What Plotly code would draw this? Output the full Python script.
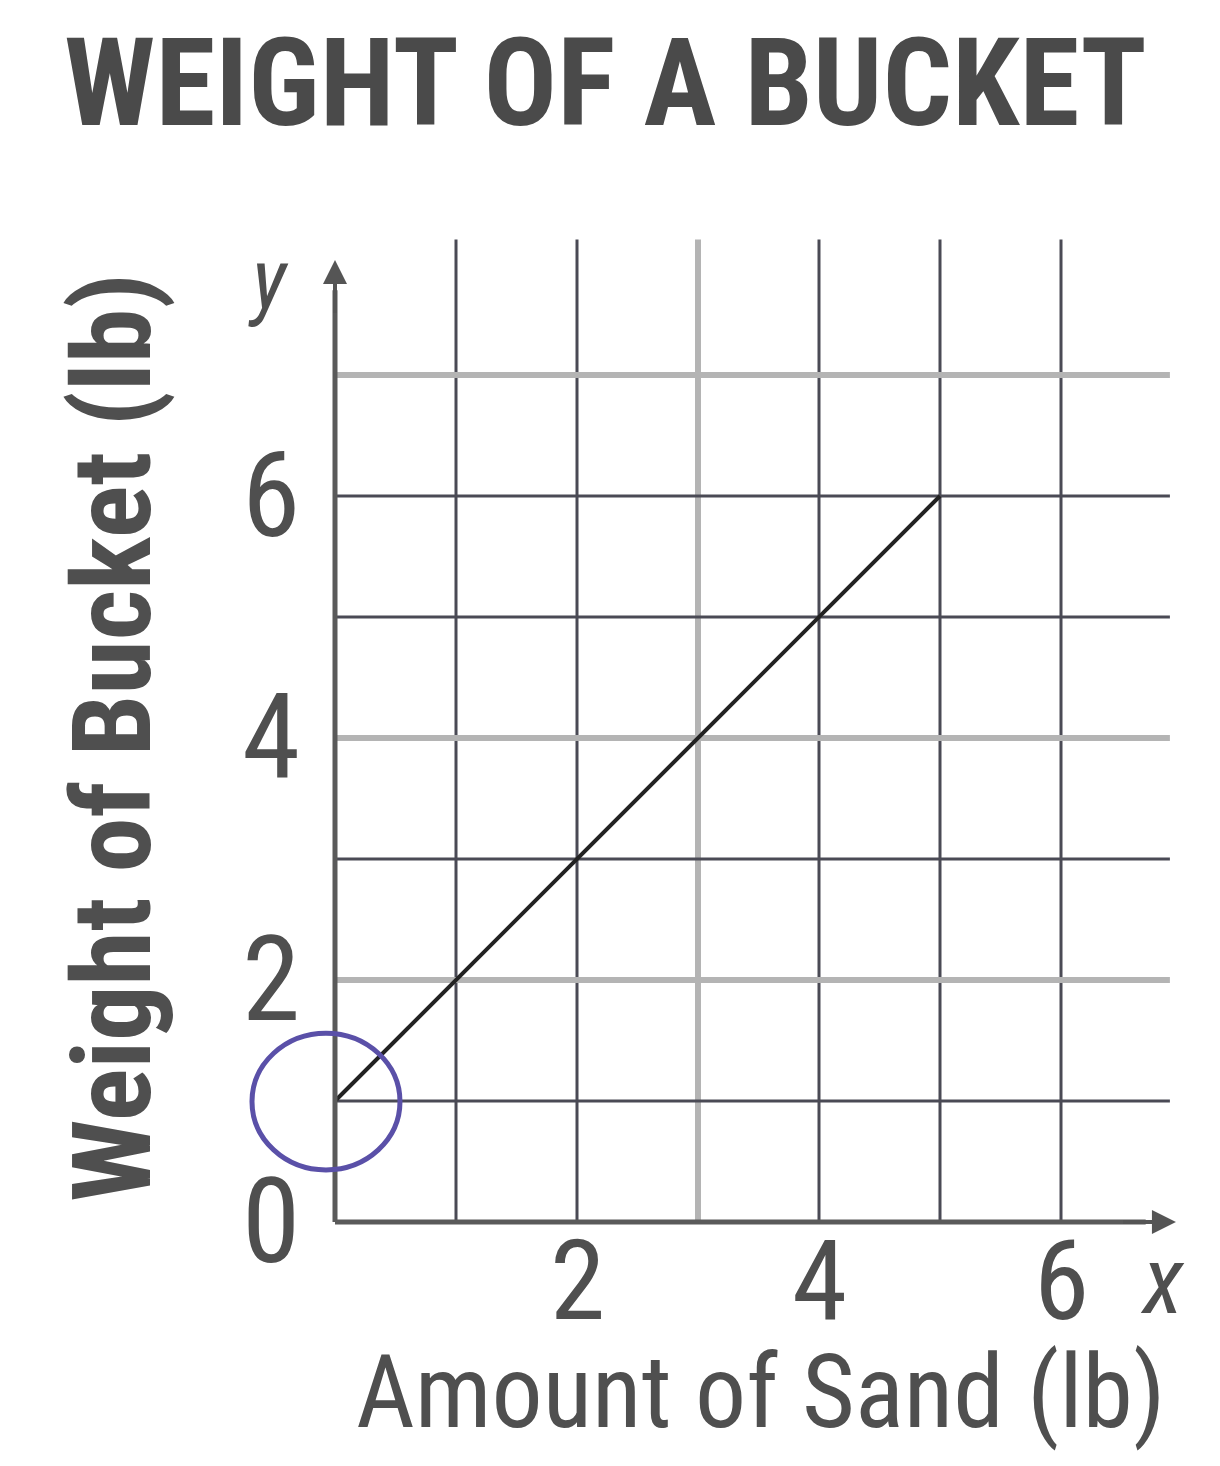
import plotly.graph_objects as go

# ---- data ----
sand_lb = [0, 1, 2, 3, 4, 5]
bucket_lb = [1, 2, 3, 4, 5, 6]
x_grid = [1, 2, 3, 4, 5, 6]
y_grid = [1, 2, 3, 4, 5, 6, 7]
x_light = [3]
y_light = [2, 4, 7]
x_ticks = [2, 4, 6]
y_ticks = [0, 2, 4, 6]

title_text = "WEIGHT OF A BUCKET"
x_title = "Amount of Sand (lb)"
y_title = "Weight of Bucket (lb)"

OFF = 8  # default page body margin
W, H = 1220 - 2 * OFF, 1466 - 2 * OFF
X0_PX, Y0_PX, UNIT = 335 - OFF, 1222 - OFF, 121.0

xr = [-X0_PX / UNIT, (W - X0_PX) / UNIT]
yr = [(Y0_PX - H) / UNIT, Y0_PX / UNIT]


def px_x(p):
    return (p - OFF - X0_PX) / UNIT


def px_y(p):
    return (Y0_PX - (p - OFF)) / UNIT


FONT = "Roboto Condensed, Liberation Sans Narrow, Roboto, sans-serif"
TXT = "#4f4f4f"
DARK = "#4a4a55"
LIGHT = "#b4b4b4"

fig = go.Figure()

shapes = []
for g in x_grid:
    light = g in x_light
    shapes.append(dict(type="line", xref="x", yref="y", x0=g, x1=g, y0=0, y1=8.12,
                       line=dict(color=LIGHT if light else DARK, width=6 if light else 3), layer="below"))
for g in y_grid:
    light = g in y_light
    shapes.append(dict(type="line", xref="x", yref="y", x0=0, x1=6.9, y0=g, y1=g,
                       line=dict(color=LIGHT if light else DARK, width=6 if light else 3), layer="below"))
# axis lines
shapes.append(dict(type="line", xref="x", yref="y", x0=0, x1=0, y0=0, y1=7.7,
                   line=dict(color="#5a5a5a", width=5)))
shapes.append(dict(type="line", xref="x", yref="y", x0=0, x1=6.7, y0=0, y1=0,
                   line=dict(color="#5a5a5a", width=5)))
# blue hand-drawn circle
shapes.append(dict(type="circle", xref="x", yref="y", x0=-0.686, x1=0.537, y0=0.43, y1=1.56,
                   line=dict(color="#5a50a8", width=5)))

fig.add_trace(go.Scatter(x=sand_lb, y=bucket_lb, mode="lines",
                         line=dict(color="#222222", width=4), hoverinfo="skip", showlegend=False))

ann = []
# axis arrows
ann.append(dict(x=0, y=7.95, ax=0, ay=7.5, xref="x", yref="y", axref="x", ayref="y",
                text="", showarrow=True, arrowhead=2, arrowsize=1.2, arrowwidth=4, arrowcolor="#555555"))
ann.append(dict(x=6.95, y=0, ax=6.5, ay=0, xref="x", yref="y", axref="x", ayref="y",
                text="", showarrow=True, arrowhead=2, arrowsize=1.2, arrowwidth=4, arrowcolor="#555555"))
# tick labels
for t in y_ticks:
    ann.append(dict(x=px_x(302), y=t, xref="x", yref="y", text=str(t), showarrow=False,
                    xanchor="right", yanchor="middle", font=dict(family=FONT, size=118, color=TXT)))
for t in x_ticks:
    ann.append(dict(x=t, y=px_y(1280), xref="x", yref="y", text=str(t), showarrow=False,
                    xanchor="center", yanchor="middle", font=dict(family=FONT, size=112, color=TXT)))
# axis letters
ann.append(dict(x=px_x(1162), y=px_y(1280), xref="x", yref="y", text="<i>x</i>", showarrow=False,
                xanchor="center", yanchor="middle", font=dict(family=FONT, size=95, color=TXT)))
ann.append(dict(x=px_x(268), y=px_y(280), xref="x", yref="y", text="<i>y</i>", showarrow=False,
                xanchor="center", yanchor="middle", font=dict(family=FONT, size=85, color=TXT)))
# titles
ann.append(dict(x=px_x(605), y=px_y(83), xref="x", yref="y", text="<b>" + title_text + "</b>",
                showarrow=False, xanchor="center", yanchor="middle",
                font=dict(family=FONT, size=122, color="#4a4a4a")))
ann.append(dict(x=px_x(760), y=px_y(1392), xref="x", yref="y", text=x_title, showarrow=False,
                xanchor="center", yanchor="middle", font=dict(family=FONT, size=102, color=TXT)))
ann.append(dict(x=px_x(112), y=px_y(738), xref="x", yref="y", text="<b>" + y_title + "</b>",
                showarrow=False, textangle=-90, xanchor="center", yanchor="middle",
                font=dict(family=FONT, size=110, color=TXT)))

fig.update_layout(
    width=W, height=H,
    margin=dict(l=0, r=0, t=0, b=0),
    paper_bgcolor="white", plot_bgcolor="white",
    xaxis=dict(range=xr, visible=False, fixedrange=True),
    yaxis=dict(range=yr, visible=False, fixedrange=True),
    shapes=shapes, annotations=ann, showlegend=False,
)

fig.write_html("out.html")
